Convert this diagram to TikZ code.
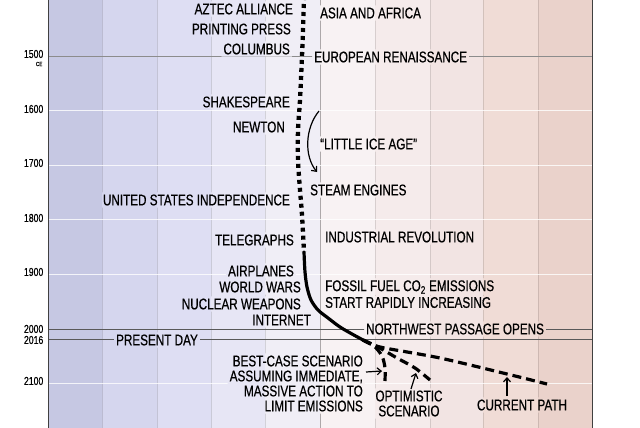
\documentclass[tikz,border=0pt]{standalone}
\usepackage{fontspec}
\setmainfont[FakeStretch=0.755,FakeBold=0.6]{Liberation Sans}
\usetikzlibrary{arrows.meta}
\pgfdeclarelayer{bg}
\pgfsetlayers{bg,main}
\definecolor{cA}{HTML}{C6C8E3}
\definecolor{cB}{HTML}{D5D6EE}
\definecolor{cC}{HTML}{DEDEF3}
\definecolor{cD}{HTML}{E7E6F5}
\definecolor{cE}{HTML}{F0EEF6}
\definecolor{cF}{HTML}{F8F2F3}
\definecolor{cG}{HTML}{F5EBEB}
\definecolor{cH}{HTML}{F2E4E3}
\definecolor{cI}{HTML}{F0DCD6}
\definecolor{cJ}{HTML}{EAD2CB}
\tikzset{
  lbl/.style={font=\fontsize{15.5}{15}\selectfont, inner sep=2pt},
  lefttxt/.style={lbl, anchor=east},
  righttxt/.style={lbl, anchor=west},
  yr/.style={font=\fontsize{11.5}{11}\selectfont, anchor=east, inner sep=0.5pt},
  vgrid/.style={draw=black, opacity=0.12, line width=0.7pt},
  zerogrid/.style={draw=black, opacity=0.3, line width=0.7pt},
  faintgrid/.style={draw=white, opacity=0.8, line width=1pt},
  darkgrid/.style={draw=black!65, line width=0.8pt},
  midgrid/.style={draw=black!45, line width=0.8pt},
  dotcurve/.style={line width=4.3pt, dash pattern=on 4pt off 4pt},
  solidcurve/.style={line width=3.2pt, line cap=round, line join=round},
  dashcurve/.style={line width=3.2pt, dash pattern=on 9pt off 5pt},
  arr/.style={line width=1.2pt, -{Straight Barb[length=4pt,width=7pt]}},
}
\begin{document}
\begin{tikzpicture}[x=1pt,y=-1pt]
\useasboundingbox (0,0) rectangle (640,428);

% ---- labels left of the curve
\node[lefttxt] (aztec) at (295,9) {AZTEC ALLIANCE};
\node[lefttxt] (press) at (293,29) {PRINTING PRESS};
\node[lefttxt] (columbus) at (292,49) {COLUMBUS};
\node[lefttxt] (shakes) at (292,102) {SHAKESPEARE};
\node[lefttxt] (newton) at (287,127) {NEWTON};
\node[lefttxt] (usind) at (292,200) {UNITED STATES INDEPENDENCE};
\node[lefttxt] (tele) at (296,240) {TELEGRAPHS};
\node[lefttxt] (planes) at (296,271) {AIRPLANES};
\node[lefttxt] (wars) at (303,287) {WORLD WARS};
\node[lefttxt] (nuke) at (303,304) {NUCLEAR WEAPONS};
\node[lefttxt] (inet) at (313,320) {INTERNET};
\node[lbl] (present) at (157,340) {PRESENT DAY};

% ---- labels right of the curve
\node[righttxt] (asia) at (318,13) {ASIA AND AFRICA};
\node[righttxt] (renais) at (312,57) {EUROPEAN RENAISSANCE};
\node[righttxt] (lia) at (318,144) {“LITTLE ICE AGE”};
\node[righttxt] (steam) at (308,190) {STEAM ENGINES};
\node[righttxt] (indrev) at (323,237) {INDUSTRIAL REVOLUTION};
\node[righttxt] (fossilA) at (323,287) {FOSSIL FUEL CO\textsubscript{2} EMISSIONS};
\node[righttxt] (fossilB) at (323,302.5) {START RAPIDLY INCREASING};
\node[righttxt] (nwp) at (364,329) {NORTHWEST PASSAGE OPENS};
\node[lbl, anchor=east, align=right] (best) at (365,383.5) {BEST-CASE SCENARIO\\ASSUMING IMMEDIATE,\\MASSIVE ACTION TO\\LIMIT EMISSIONS};
\node[lbl, align=center] (optim) at (409,403.5) {OPTIMISTIC\\SCENARIO};
\node[lbl] (curr) at (522,405) {CURRENT PATH};

% ---- year labels
\node[yr] (y1500) at (44,54) {1500};
\node[yr, font=\fontsize{6}{6}\selectfont] (yce) at (43,64) {CE};
\node[yr] (y1600) at (44,109) {1600};
\node[yr] (y1700) at (44,163) {1700};
\node[yr] (y1800) at (44,218) {1800};
\node[yr] (y1900) at (44,272) {1900};
\node[yr] (y2000) at (44,329) {2000};
\node[yr] (y2016) at (44,340) {2016};
\node[yr] (y2100) at (44,381) {2100};

% ---- background and grid
\begin{pgfonlayer}{bg}
\fill[white] (0,0) rectangle (640,428);
\fill[cA] (48,0) rectangle (102,428);
\fill[cB] (102,0) rectangle (157,428);
\fill[cC] (157,0) rectangle (211,428);
\fill[cD] (211,0) rectangle (265,428);
\fill[cE] (265,0) rectangle (320,428);
\fill[cF] (320,0) rectangle (375,428);
\fill[cG] (375,0) rectangle (430,428);
\fill[cH] (430,0) rectangle (483,428);
\fill[cI] (483,0) rectangle (538,428);
\fill[cJ] (538,0) rectangle (592,428);
\begin{scope}
\clip (0,0) rectangle (640,428)
  foreach \nm in {aztec,press,columbus,shakes,newton,usind,tele,planes,wars,nuke,inet,present,asia,renais,lia,steam,indrev,fossilA,fossilB,nwp,best,optim,curr}
  {(\nm.south west) rectangle (\nm.north east)};
\foreach \gx in {102,157,211,265,375,430,483,538}
  \draw[vgrid] (\gx,0) -- (\gx,428);
\draw[zerogrid] (320,0) -- (320,428);
\foreach \gy in {110.6,165,219.8,274,383.6}
  \draw[faintgrid] (48,\gy) -- (592,\gy);
\draw[midgrid] (48,56) -- (592,56);
\draw[darkgrid] (48,329) -- (592,329);
\draw[darkgrid] (48,339) -- (592,339);
\end{scope}
\draw[line width=1pt, black!75] (48,0) -- (48,428);
\draw[line width=1pt, black!75] (592,0) -- (592,428);
\end{pgfonlayer}

% ---- temperature curve
\draw[dotcurve] plot[smooth] coordinates {(304,-4) (303,30) (302,56) (300,100) (298,130) (298,160) (300,190) (302,215) (304,252)};
\draw[solidcurve] plot[smooth] coordinates {(304,252) (305,272) (307,287) (311,300) (318,310) (328,318) (340,327) (352,334) (363,340)};
\draw[dashcurve] plot[smooth] coordinates {(363,340) (380,347) (440,358) (507,374) (547,384)};
\draw[dashcurve] plot[smooth] coordinates {(363,340) (378,347) (397,358) (415,368) (430,380)};
\draw[dashcurve] plot[smooth] coordinates {(363,340) (374,346) (382,356) (385,368) (385,381)};

% ---- arrows
\coordinate (liaA) at (319,111);
\coordinate (liaB) at (317,172);
\draw[arr] (liaA) .. controls (305,128) and (304,156) .. (liaB);
\coordinate (bestA) at (366,372);
\coordinate (bestB) at (382,371);
\draw[arr] (bestA) -- (bestB);
\coordinate (optA) at (411,389);
\coordinate (optB) at (416,373);
\draw[arr] (optA) -- (optB);
\coordinate (curA) at (507,396);
\coordinate (curB) at (507,377);
\draw[arr] (curA) -- (curB);
\end{tikzpicture}
\end{document}
